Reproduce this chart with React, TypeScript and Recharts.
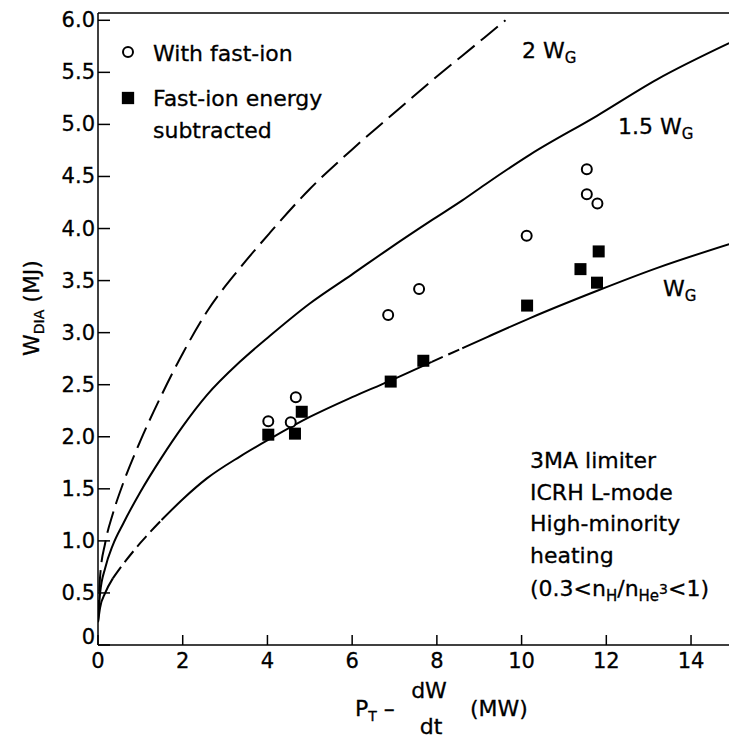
import { ComposedChart, Line, Scatter, XAxis, YAxis, ReferenceLine } from "recharts";

// curve samples (MW -> MJ)
const wgX = [0, 0.05, 0.17, 0.35, 0.6, 1, 1.5, 2, 2.57, 3.35, 4.06, 5, 6, 6.85, 7.88, 8.6, 9.2, 10.2, 11.77, 13.19, 14.9];
const wg = [0.22, 0.36, 0.5, 0.64, 0.78, 0.98, 1.2, 1.4, 1.6, 1.81, 1.98, 2.19, 2.38, 2.53, 2.72, 2.85, 2.96, 3.14, 3.4, 3.62, 3.85];
const wg15 = [0.22, 0.5, 0.74, 0.96, 1.17, 1.47, 1.8, 2.1, 2.4, 2.72, 2.97, 3.28, 3.56, 3.8, 4.08, 4.27, 4.44, 4.71, 5.08, 5.43, 5.78];
const wg2X = [0, 0.05, 0.17, 0.35, 0.6, 1, 1.5, 2, 2.57, 3.35, 4.06, 5, 6, 6.85, 7.88, 8.6, 9.62];
const wg2 = [0.22, 0.66, 0.98, 1.26, 1.56, 1.96, 2.4, 2.8, 3.2, 3.62, 3.96, 4.38, 4.76, 5.06, 5.42, 5.66, 6.0];

// measured points
const fastX = [4.02, 4.55, 4.67, 6.85, 7.58, 10.12, 11.54, 11.54, 11.79];
const fastY = [2.15, 2.14, 2.38, 3.17, 3.42, 3.93, 4.57, 4.33, 4.24];
const subX = [4.02, 4.65, 4.81, 6.91, 7.68, 10.13, 11.39, 11.78, 11.82];
const subY = [2.02, 2.03, 2.24, 2.53, 2.73, 3.26, 3.61, 3.48, 3.78];

const xTicks = [0, 2, 4, 6, 8, 10, 12, 14];
const yTicks = [0, 0.5, 1, 1.5, 2, 2.5, 3, 3.5, 4, 4.5, 5, 5.5, 6];
const xMax = 14.92;
const yMax = 6.07;

const W = 729;
const H = 734;
const FONT = "'DejaVu Sans', sans-serif";

const pts = (xs: number[], ys: number[]) => xs.map((x, i) => ({ x, y: ys[i] }));
const wgPts = pts(wgX, wg);
// W_G drawn in pieces: solid / dashed like the original
const wgSegs = [
  { d: wgPts.slice(0, 4), dash: undefined },
  { d: wgPts.slice(3, 7), dash: "14 6" },
  { d: wgPts.slice(6, 15), dash: undefined },
  { d: wgPts.slice(14, 16), dash: "12 6" },
  { d: wgPts.slice(15), dash: undefined },
];

const YTick = ({ x, y, payload }: any) => (
  <g>
    <line x1={x} y1={y} x2={x + 12} y2={y} stroke="#000" strokeWidth={1.5} />
    <text
      x={x - 3}
      y={payload.value === 0 ? y - 1 : y + 7}
      textAnchor="end"
      fontFamily={FONT}
      fontSize={21}
      fill="#000"
      stroke="#000"
      strokeWidth={0.3}
    >
      {payload.value === 0 ? "0" : payload.value.toFixed(1)}
    </text>
  </g>
);

const XTick = ({ x, y, payload }: any) => (
  <g>
    <line x1={x} y1={y} x2={x} y2={y - 10} stroke="#000" strokeWidth={1.5} />
    <text x={x} y={y + 23} textAnchor="middle" fontFamily={FONT} fontSize={21} fill="#000" stroke="#000" strokeWidth={0.3}>
      {payload.value}
    </text>
  </g>
);

const OpenCircle = ({ cx, cy }: any) => (
  <circle cx={cx} cy={cy} r={5} fill="#fff" stroke="#000" strokeWidth={2} />
);
const FilledSquare = ({ cx, cy }: any) => (
  <rect x={cx - 6} y={cy - 6} width={12} height={12} fill="#000" />
);

export default function App() {
  return (
    <div style={{ position: "relative", width: W, height: H, background: "#fff" }}>
      <ComposedChart width={W} height={H} margin={{ top: 5, right: 7, bottom: 0, left: 0 }}>
        <XAxis
          type="number"
          dataKey="x"
          domain={[0, xMax]}
          ticks={xTicks}
          tick={<XTick />}
          tickLine={false}
          tickSize={0}
          tickMargin={0}
          height={97}
          axisLine={{ stroke: "#000", strokeWidth: 1.5 }}
          allowDataOverflow
        />
        <YAxis
          type="number"
          dataKey="y"
          domain={[0, yMax]}
          ticks={yTicks}
          tick={<YTick />}
          tickLine={false}
          tickSize={0}
          tickMargin={0}
          width={90}
          axisLine={{ stroke: "#000", strokeWidth: 1.5 }}
          allowDataOverflow
        />
        <ReferenceLine y={yMax} stroke="#000" strokeWidth={1.5} ifOverflow="extendDomain" />
        <ReferenceLine x={xMax} stroke="#000" strokeWidth={1.5} ifOverflow="extendDomain" />
        {wgSegs.map((s, i) => (
          <Line
            key={"wg" + i}
            data={s.d}
            dataKey="y"
            type="monotone"
            stroke="#000"
            strokeWidth={2}
            strokeDasharray={s.dash}
            dot={false}
            isAnimationActive={false}
          />
        ))}
        <Line data={pts(wgX, wg15)} dataKey="y" type="monotone" stroke="#000" strokeWidth={2} dot={false} isAnimationActive={false} />
        <Line data={pts(wg2X, wg2)} dataKey="y" type="monotone" stroke="#000" strokeWidth={2} strokeDasharray="22 8" dot={false} isAnimationActive={false} />
        <Scatter data={pts(subX, subY)} shape={<FilledSquare />} isAnimationActive={false} />
        <Scatter data={pts(fastX, fastY)} shape={<OpenCircle />} isAnimationActive={false} />
      </ComposedChart>

      <svg width={W} height={H} style={{ position: "absolute", left: 0, top: 0, pointerEvents: "none" }}>
        <g fontFamily={FONT} fontSize={22} fill="#000" stroke="#000" strokeWidth={0.3}>
          {/* legend */}
          <circle cx={120} cy={44} r={5} fill="#fff" stroke="#000" strokeWidth={2} />
          <text x={145} y={53}>With fast-ion</text>
          <rect x={114} y={84} width={12} height={12} fill="#000" />
          <text x={145} y={98}>Fast-ion energy</text>
          <text x={145} y={130}>subtracted</text>

          {/* curve labels */}
          <text x={514} y={50}>
            2 W<tspan fontSize={15} dy={5}>G</tspan>
          </text>
          <text x={610} y={126}>
            1.5 W<tspan fontSize={15} dy={5}>G</tspan>
          </text>
          <text x={655} y={288}>
            W<tspan fontSize={15} dy={5}>G</tspan>
          </text>

          {/* conditions */}
          <text x={522} y={460}>3MA limiter</text>
          <text x={522} y={492}>ICRH L-mode</text>
          <text x={522} y={523}>High-minority</text>
          <text x={522} y={555}>heating</text>
          <text x={522} y={588}>
            (0.3&lt;n<tspan fontSize={15} dy={5}>H</tspan>
            <tspan dy={-5}>/n</tspan>
            <tspan fontSize={15} dy={5}>He</tspan>
            <tspan fontSize={14} dy={-7}>3</tspan>
            <tspan dy={2}>&lt;1)</tspan>
          </text>

          {/* axis titles */}
          <text transform="translate(31, 300) rotate(-90)" textAnchor="middle">
            W<tspan fontSize={14} dy={5}>DIA</tspan>
            <tspan dy={-5}> (MJ)</tspan>
          </text>
          <text x={347} y={708}>
            P<tspan fontSize={14} dy={5}>T</tspan>
            <tspan dy={-5}> –</tspan>
          </text>
          <text x={421} y={690} textAnchor="middle">dW</text>
          <text x={423} y={726} textAnchor="middle">dt</text>
          <text x={462} y={708}>(MW)</text>
        </g>
      </svg>
    </div>
  );
}
